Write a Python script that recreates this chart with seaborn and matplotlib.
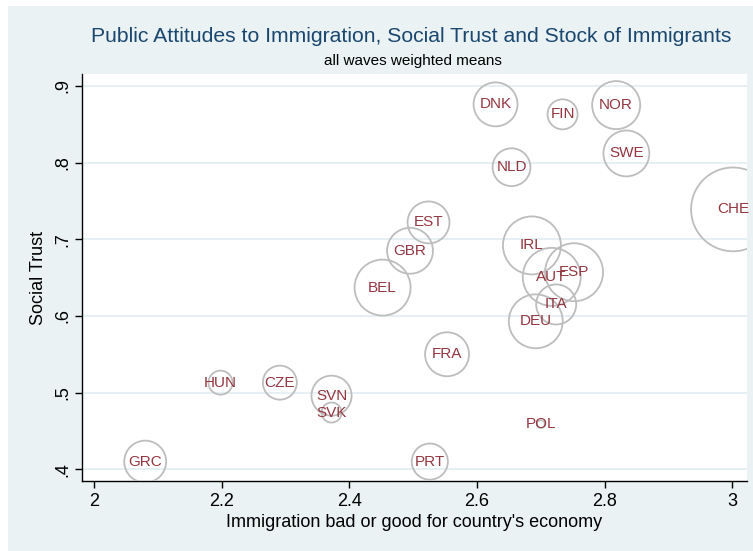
import matplotlib
matplotlib.use("Agg")
import matplotlib.pyplot as plt
from matplotlib.patches import Rectangle
import numpy as np
import pandas as pd
import seaborn as sns

# Country-level weighted means across all survey waves
countries = ["GRC", "HUN", "CZE", "SVN", "SVK", "PRT", "POL", "FRA", "BEL", "GBR",
             "EST", "IRL", "AUT", "ESP", "ITA", "DEU", "DNK", "FIN", "NOR", "SWE",
             "NLD", "CHE"]
immig_economy = [2.080, 2.198, 2.291, 2.372, 2.372, 2.526, 2.700, 2.553, 2.452, 2.495,
                 2.524, 2.686, 2.717, 2.752, 2.724, 2.692, 2.629, 2.734, 2.818, 2.834,
                 2.654, 3.001]
social_trust = [0.410, 0.513, 0.513, 0.496, 0.474, 0.410, 0.459, 0.550, 0.637, 0.685,
                0.722, 0.692, 0.651, 0.657, 0.615, 0.593, 0.876, 0.863, 0.875, 0.812,
                0.794, 0.739]
immig_stock = [7.0, 2.3, 4.6, 6.4, 1.6, 5.2, 0.25, 7.7, 12.5, 8.4,
               7.0, 13.4, 13.4, 13.4, 6.4, 11.6, 7.7, 3.6, 9.2, 8.4,
               5.7, 28.0]

x_ticks = [2, 2.2, 2.4, 2.6, 2.8, 3]
x_tick_labels = ["2", "2.2", "2.4", "2.6", "2.8", "3"]
y_ticks = [0.4, 0.5, 0.6, 0.7, 0.8, 0.9]
y_tick_labels = [".4", ".5", ".6", ".7", ".8", ".9"]

df = pd.DataFrame({"country": countries, "economy": immig_economy,
                   "trust": social_trust, "stock": immig_stock})

sns.set_theme(style="white")
plt.rcParams["font.family"] = ["Liberation Sans", "DejaVu Sans"]

W, H = 753, 551
fig = plt.figure(figsize=(W / 100, H / 100), dpi=100)
fig.patch.set_facecolor("white")
# Graph region background
fig.add_artist(Rectangle((8 / W, 0), 1 - 8 / W, 1 - 6 / H, transform=fig.transFigure,
                         facecolor="#EAF2F3", edgecolor="none", zorder=0))

ax = fig.add_axes([82 / W, (H - 481) / H, (747 - 82) / W, (481 - 74) / H])
ax.set_facecolor("white")

# Bubble area proportional to immigrant stock
scale = 130.0
sns.scatterplot(data=df, x="economy", y="trust", size="stock",
                sizes=(0, 30 * scale), size_norm=(0, 30), legend=False,
                facecolor="none", edgecolor="#BDBDBD", linewidth=1.3, ax=ax, zorder=3)

for c, xv, yv in zip(countries, immig_economy, social_trust):
    ax.text(xv, yv, c, ha="center", va="center", color="#93363F", fontsize=11, zorder=4)

ax.set_xlim(1.981, 3.023)
ax.set_ylim(0.3847, 0.9156)
ax.set_xticks(x_ticks)
ax.set_xticklabels(x_tick_labels)
ax.set_yticks(y_ticks)
ax.set_yticklabels(y_tick_labels, rotation=90, va="center")
ax.tick_params(axis="both", direction="out", length=5, width=1, color="black",
               labelsize=13, labelcolor="black", bottom=True, left=True)
ax.tick_params(axis="y", pad=3)
ax.yaxis.grid(True, color="#E4EEF0", linewidth=1.3, zorder=0)
ax.xaxis.grid(False)
ax.set_axisbelow(True)
for side in ["top", "right"]:
    ax.spines[side].set_visible(False)
for side in ["left", "bottom"]:
    ax.spines[side].set_color("black")
    ax.spines[side].set_linewidth(1.0)

ax.set_xlabel("Immigration bad or good for country's economy", fontsize=13,
              color="black", labelpad=3)
ax.set_ylabel("Social Trust", fontsize=13, color="black", labelpad=5)

fig.text(411 / W, 1 - 36 / H, "Public Attitudes to Immigration, Social Trust and Stock of Immigrants",
         ha="center", va="center", fontsize=15.2, color="#1A476F")
fig.text(413 / W, 1 - 61 / H, "all waves weighted means", ha="center", va="center",
         fontsize=11, color="black")

fig.savefig("out.png", dpi=100)
